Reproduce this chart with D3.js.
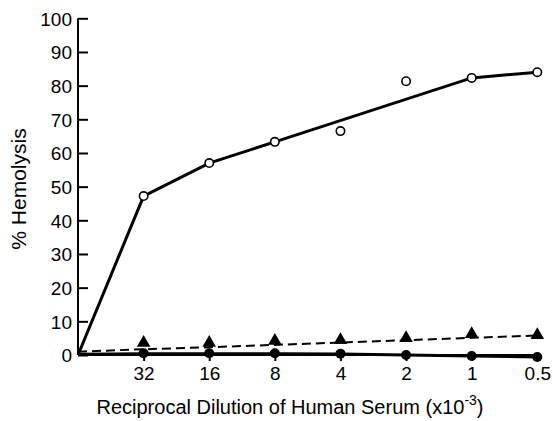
<!DOCTYPE html>
<html><head><meta charset="utf-8">
<script src="https://cdn.jsdelivr.net/npm/d3@7"></script>
<style>body{margin:0;background:#fff}svg{display:block}text{font-family:"Liberation Sans",Arial,sans-serif;fill:#000}</style>
</head><body><svg id="c" width="553" height="421"></svg>
<script>
// categories (index 0 = origin, no label)
const categories = ["", "32", "16", "8", "4", "2", "1", "0.5"];
const yTicks = [0,10,20,30,40,50,60,70,80,90,100];
// open circles (measured points)
const openValues = [null, 47.2, 57.0, 63.3, 66.5, 81.3, 82.3, 84.0];
// fitted solid curve through open circles
const openFitCats = ["", "32", "16", "8", "1", "0.5"];
const openFitValues = [0, 47.2, 57.0, 63.3, 82.3, 84.0];
// filled triangles
const triValues = [null, 3.6, 3.6, 4.2, 4.4, 5.0, 6.2, 5.9];
// dashed fit through triangles
const triFitValues = [1.0, 1.7, 2.3, 3.0, 3.7, 4.4, 5.1, 5.8];
// filled circles
const dotValues = [null, 0.5, 0.5, 0.5, 0.4, 0.0, -0.3, -0.6];
const dotFitValues = [0.2, 0.4, 0.4, 0.4, 0.3, 0.0, -0.3, -0.6];

const svg = d3.select("#c");
const x = d3.scalePoint().domain(categories).range([78, 537.3]);
const y = d3.scaleLinear().domain([0,100]).range([355, 18.3]);

// y axis
const ya = svg.append("g").attr("transform","translate(78,0)")
  .call(d3.axisRight(y).tickValues(yTicks).tickSize(10).tickFormat(d3.format("d")));
ya.select(".domain").attr("stroke","#000").attr("stroke-width",2).attr("d","M0,355V18.3");
ya.selectAll(".tick line").attr("stroke","#000").attr("stroke-width",2);
ya.selectAll(".tick text").attr("x",-6).attr("text-anchor","end").attr("dy","0.36em")
  .style("font-size","19px").style("font-family","Liberation Sans, Arial, sans-serif");

// x axis
const xa = svg.append("g").attr("transform","translate(0,355)")
  .call(d3.axisBottom(x).tickValues(categories.slice(1)).tickSize(6).tickPadding(6));
xa.select(".domain").attr("stroke","#000").attr("stroke-width",2).attr("d","M78,0H541");
xa.selectAll(".tick line").attr("stroke","#000").attr("stroke-width",2);
xa.selectAll(".tick text").style("font-size","19px").style("font-family","Liberation Sans, Arial, sans-serif");

// axis titles
svg.append("text").attr("transform","translate(26,189) rotate(-90)").attr("text-anchor","middle")
  .style("font-size","21px").text("% Hemolysis");
const xt = svg.append("text").attr("x",290).attr("y",414).attr("text-anchor","middle").style("font-size","20px");
xt.append("tspan").text("Reciprocal Dilution of Human Serum  (x10");
xt.append("tspan").attr("dy",-9).style("font-size","14px").text("-3");
xt.append("tspan").attr("dy",9).text(")");

const line = d3.line().x(d=>x(d[0])).y(d=>y(d[1]));

// dashed triangle fit
svg.append("path").datum(categories.map((c,i)=>[c,triFitValues[i]]))
  .attr("d",line).attr("fill","none").attr("stroke","#000").attr("stroke-width",2).attr("stroke-dasharray","9,5");
// filled circle fit
svg.append("path").datum(categories.map((c,i)=>[c,dotFitValues[i]]))
  .attr("d",line).attr("fill","none").attr("stroke","#000").attr("stroke-width",3);
// open circle fit
svg.append("path").datum(openFitCats.map((c,i)=>[c,openFitValues[i]]))
  .attr("d",line).attr("fill","none").attr("stroke","#000").attr("stroke-width",3);

// triangles
svg.selectAll(".tri").data(categories.map((c,i)=>[c,triValues[i]]).filter(d=>d[1]!=null))
  .enter().append("path").attr("d",d3.symbol(d3.symbolTriangle,80))
  .attr("transform",d=>`translate(${x(d[0])},${y(d[1])})`).attr("fill","#000");
// filled circles
svg.selectAll(".dot").data(categories.map((c,i)=>[c,dotValues[i]]).filter(d=>d[1]!=null))
  .enter().append("circle").attr("cx",d=>x(d[0])).attr("cy",d=>y(d[1])).attr("r",5).attr("fill","#000");
// open circles
svg.selectAll(".open").data(categories.map((c,i)=>[c,openValues[i]]).filter(d=>d[1]!=null))
  .enter().append("circle").attr("cx",d=>x(d[0])).attr("cy",d=>y(d[1])).attr("r",4.2)
  .attr("fill","#fff").attr("stroke","#000").attr("stroke-width",1.6);
</script></body></html>
